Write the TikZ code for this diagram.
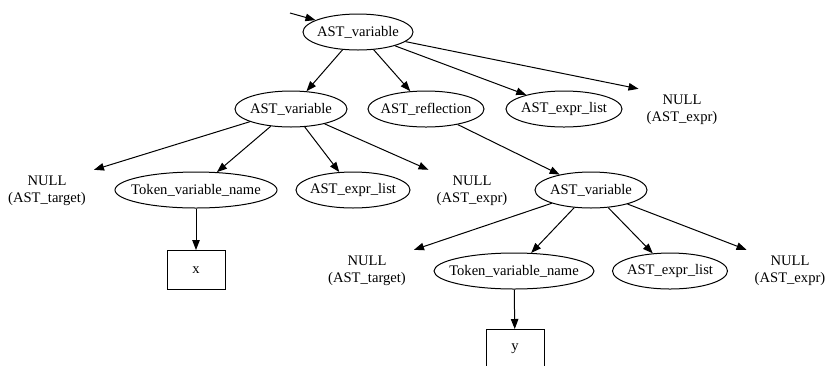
\documentclass[tikz,border=0pt]{standalone}
\usepackage{fontspec}
\setmainfont{Liberation Serif}
\usetikzlibrary{arrows.meta, shapes.geometric}

\newcommand{\nodetext}[1]{\makebox[0pt]{#1}}

\begin{document}
\begin{tikzpicture}[x=1pt, y=-1pt,
    font=\fontsize{14.6}{17}\selectfont,
    ast/.style={ellipse, draw, line width=1pt, inner sep=0pt, minimum height=36, minimum width=#1},
    nullnode/.style={rectangle, align=center, inner xsep=8pt, minimum height=42},
    leaf/.style={rectangle, draw, line width=1pt, minimum width=58, minimum height=39},
    edge/.style={-{Triangle[length=10pt, width=7.5pt]}, line width=1pt}]
      \useasboundingbox (0,0) rectangle (826,365);

      \coordinate (start) at (290,13);
      \node[ast=110] (root) at (358,32) {\nodetext{AST\_variable}};

      \node[ast=112] (var1) at (291,109) {\nodetext{AST\_variable}};
      \node[ast=116] (refl) at (426,109) {\nodetext{AST\_reflection}};
      \node[ast=116] (list1) at (564,109) {\nodetext{AST\_expr\_list}};
      \node[nullnode] (expr1) at (682,110) {NULL\\(AST\_expr)};

      \node[nullnode] (target1) at (47,191) {NULL\\(AST\_target)};
      \node[ast=162] (tok1) at (196,190) {\nodetext{Token\_variable\_name}};
      \node[ast=114] (list2) at (353,190) {\nodetext{AST\_expr\_list}};
      \node[nullnode] (expr2) at (472,191) {NULL\\(AST\_expr)};
      \node[ast=112] (var2) at (591,190) {\nodetext{AST\_variable}};

      \node[leaf] (x) at (196,270) {x};

      \node[nullnode] (target2) at (367,271) {NULL\\(AST\_target)};
      \node[ast=160] (tok2) at (514,271) {\nodetext{Token\_variable\_name}};
      \node[ast=115] (list3) at (670,271) {\nodetext{AST\_expr\_list}};
      \node[nullnode] (expr3) at (790,271) {NULL\\(AST\_expr)};

      \node[leaf] (y) at (515,349) {y};

      \draw[edge] (start) -- (root);
      \draw[edge] (root) -- (var1);
      \draw[edge] (root) -- (refl);
      \draw[edge] (root) -- (list1);
      \draw[edge] (root) -- (expr1.north west);

      \draw[edge] (var1) -- (target1.north east);
      \draw[edge] (var1) -- (tok1);
      \draw[edge] (var1) -- (list2);
      \draw[edge] (var1) -- (expr2.north west);
      \draw[edge] (tok1) -- (x);

      \draw[edge] (refl) -- (var2);
      \draw[edge] (var2) -- (target2.north east);
      \draw[edge] (var2) -- (tok2);
      \draw[edge] (var2) -- (list3);
      \draw[edge] (var2) -- (expr3.north west);
      \draw[edge] (tok2) -- (y);
    \end{tikzpicture}
\end{document}
